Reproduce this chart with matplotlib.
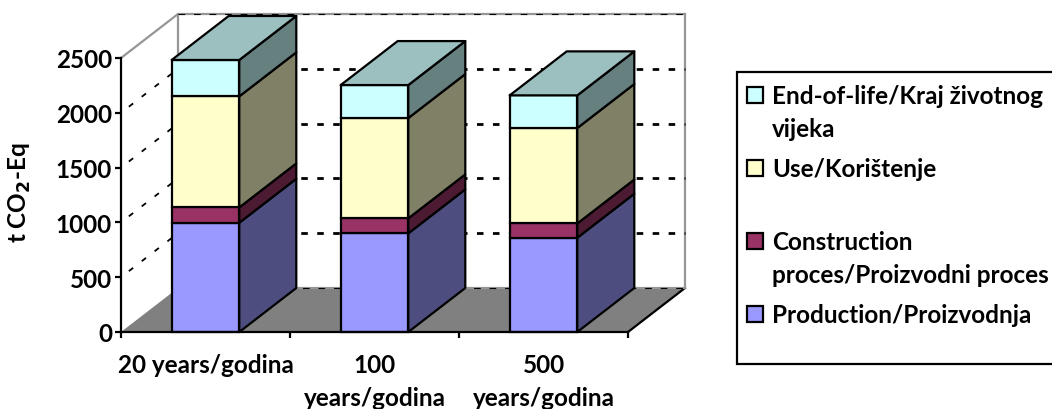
import matplotlib
matplotlib.use('Agg')
import matplotlib.pyplot as plt
from matplotlib.legend_handler import HandlerPatch
from matplotlib.patches import Polygon, Rectangle

plt.rcParams['font.family'] = ['Lato', 'DejaVu Sans']
plt.rcParams['font.weight'] = 'bold'
plt.rcParams['font.size'] = 17.5

categories = ['20 years/godina', '100\nyears/godina', '500\nyears/godina']
production = [997, 900, 860]
construction = [140, 137, 130]
use = [1013, 915, 871]
end_of_life = [332, 301, 298]
y_ticks = [0, 500, 1000, 1500, 2000, 2500]

series = [
    ('Production/Proizvodnja\n ', production, '#9999FF', '#4D4D80'),
    ('Construction\nproces/Proizvodni proces', construction, '#993366', '#4D1A33'),
    ('Use/Korištenje\n ', use, '#FFFFCC', '#808066'),
    ('End-of-life/Kraj životnog\nvijeka', end_of_life, '#CCFFFF', '#668080'),
]
top_color = '#9CC0BF'
floor_color = '#808080'
wall_color = '#969696'

W, H = 1052, 410
# pomak dubine 3D prikaza, u jedinicama osi
DX = 57 / 169
DY = 44 / (274 / 2500)
BAR_W = 0.4
LW = 1.6

fig = plt.figure(figsize=(W / 100, H / 100), dpi=100, facecolor='white')
ax = fig.add_axes([121 / W, 1 - 333 / H, 507 / W, 274 / H])
ax.set_xlim(0, 3)
ax.set_ylim(0, 2500)
ax.patch.set_visible(False)
for s in ['top', 'right']:
    ax.spines[s].set_visible(False)
for s in ['left', 'bottom']:
    ax.spines[s].set_linewidth(1.6)
    ax.spines[s].set_zorder(20)


def poly(points, **kw):
    ax.add_patch(Polygon(points, closed=True, clip_on=False, **kw))


# pod i zidovi
poly([(0, 0), (DX, DY), (3 + DX, DY), (3, 0)], facecolor=floor_color, edgecolor='none', zorder=1)
ax.plot([3, 3 + DX], [0, DY], color='black', lw=1.6, clip_on=False, zorder=2)
ax.plot([0, DX, DX, 3 + DX, 3 + DX], [2500, 2500 + DY, DY, DY, 2500 + DY],
        color=wall_color, lw=1.6, clip_on=False, zorder=2)
ax.plot([DX, 3 + DX], [2500 + DY, 2500 + DY], color=wall_color, lw=1.6, clip_on=False, zorder=2)

# mreza
for v in y_ticks[1:5]:
    ax.plot([0, DX], [v, v + DY], color='black', lw=1.3, clip_on=False, zorder=3,
            linestyle=(3.5, (3.0, 6.0)))
    ax.plot([DX, 3 + DX], [v + DY, v + DY], color='black', lw=2.0, clip_on=False, zorder=3,
            linestyle=(1.8, (2.35, 3.4)))
for v in [0, 2500]:
    ax.plot([DX, 3 + DX], [v + DY, v + DY], color='black', lw=0.8, clip_on=False, zorder=3,
            linestyle=(0, (6, 8)))

# stupci
for i in range(len(categories)):
    x0 = i + 0.5 - BAR_W / 2
    x1 = x0 + BAR_W
    bottom = 0
    for label, values, front, side in series:
        top = bottom + values[i]
        z = 5 + i
        ax.bar(i + 0.5, values[i], BAR_W, bottom=bottom, color=front, edgecolor='black',
               linewidth=LW, zorder=z, clip_on=False)
        poly([(x1, bottom), (x1 + DX, bottom + DY), (x1 + DX, top + DY), (x1, top)],
             facecolor=side, edgecolor='black', linewidth=LW, joinstyle='round', zorder=z)
        bottom = top
    poly([(x0, bottom), (x0 + DX, bottom + DY), (x1 + DX, bottom + DY), (x1, bottom)],
         facecolor=top_color, edgecolor='black', linewidth=LW, joinstyle='round', zorder=5 + i)

# osi
ax.set_yticks(y_ticks)
ax.tick_params(axis='y', length=4.5, width=1.6, pad=2)
ax.set_xticks([0, 1, 2, 3])
ax.set_xticklabels([])
ax.tick_params(axis='x', which='major', length=4.5, width=1.6)
ax.set_xticks([0.5, 1.5, 2.5], minor=True)
ax.set_xticklabels(categories, minor=True, linespacing=1.55)
ax.tick_params(axis='x', which='minor', length=0, pad=15)
ax.set_ylabel('t CO$_2$-Eq', fontweight='bold')
ax.yaxis.set_label_coords(-0.173, 0.512)

handles = [Rectangle((0, 0), 1, 1, facecolor=c, edgecolor='black', linewidth=1.6)
           for _, _, c, _ in series[::-1]]
labels = [s[0] for s in series[::-1]]


def legend_box(legend, orig_handle, xdescent, ydescent, width, height, fontsize):
    # oznaka stoji uz prvi red natpisa, zadnji natpis ima gusci razmak redova
    y = 10.8 if orig_handle is handles[-1] else 13.5
    return Rectangle((-1.5, y), 11.5, 11.5)


leg = fig.legend(handles, labels, loc='upper left', bbox_to_anchor=(737 / W, 1 - 73 / H),
                 borderaxespad=0, frameon=True, fancybox=False, edgecolor='black',
                 framealpha=1, handlelength=0.66, handletextpad=0.27, borderpad=0.5,
                 labelspacing=0.7,
                 handler_map={Rectangle: HandlerPatch(patch_func=legend_box)})
leg.get_frame().set_linewidth(1.6)
for t in leg.get_texts():
    t.set_linespacing(1.52)
leg.get_texts()[-1].set_linespacing(1.15)

fig.savefig('out.png', dpi=100)
